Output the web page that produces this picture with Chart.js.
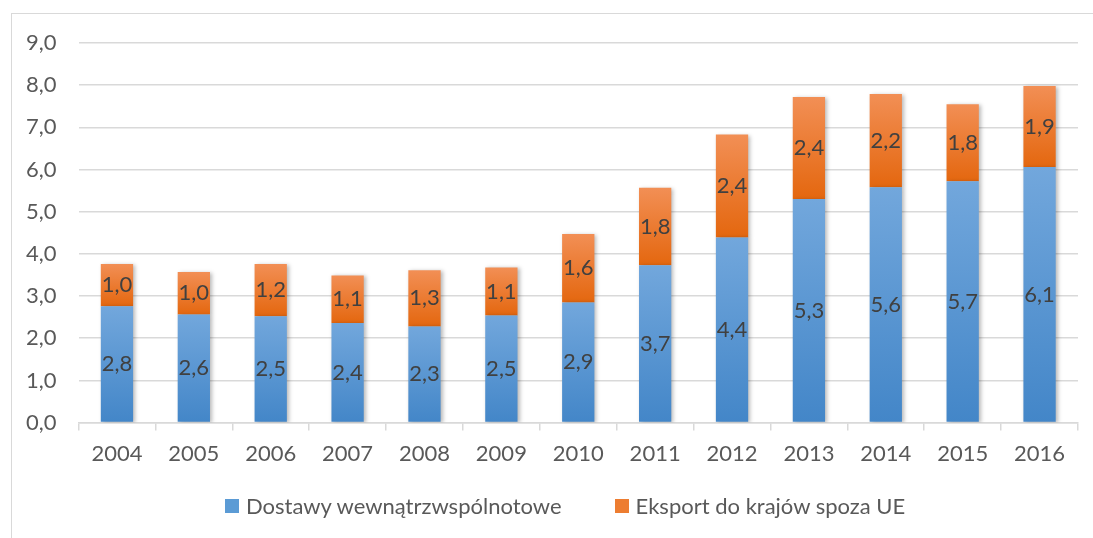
<!DOCTYPE html>
<html>
<head>
<meta charset="utf-8">
<script src="https://cdn.jsdelivr.net/npm/chart.js@4/dist/chart.umd.min.js"></script>
<style>
  html, body { margin: 0; padding: 0; background: #fff; overflow: hidden; }
  #wrap { position: absolute; left: 0; top: 0; width: 1093px; height: 538px; }
  #frame { position: absolute; left: 11px; top: 13px; width: 1200px; height: 600px;
           border: 1px solid #d9d9d9; pointer-events: none; }
  #legend { position: absolute; left: 225px; top: 493px; height: 26px; white-space: nowrap;
            font: 22px Lato; color: #595959; line-height: 26px; }
  #legend span.item { display: inline-block; margin-right: 53px; }
  #legend span.box { display: inline-block; width: 14px; height: 14px; margin-right: 7px;
                     vertical-align: 1px; }
</style>
</head>
<body>
<div id="frame"></div>
<div id="wrap"><canvas id="bar-chart" width="1093" height="538"></canvas></div>
<div id="legend"></div>
<script>
const years = ['2004', '2005', '2006', '2007', '2008', '2009', '2010', '2011', '2012', '2013', '2014', '2015', '2016'];
const dostawy = [2.76, 2.56, 2.52, 2.36, 2.28, 2.54, 2.85, 3.73, 4.39, 5.30, 5.58, 5.72, 6.06];
const eksport = [1.00, 1.01, 1.24, 1.13, 1.33, 1.14, 1.62, 1.84, 2.44, 2.42, 2.21, 1.83, 1.92];
const yTicks = [0, 1, 2, 3, 4, 5, 6, 7, 8, 9];
const seriesNames = ['Dostawy wewnątrzwspólnotowe', 'Eksport do krajów spoza UE'];
const legendColors = ['#5b9bd5', '#ed7d31'];

const fmt = v => v.toFixed(1).replace('.', ',');

// gradient for one bar segment, light on top, darker at the bottom
function segGradient(ctx, lo, hi, top, bottom) {
    const chart = ctx.chart;
    const y = chart.scales.y;
    if (!y || !chart.chartArea) return bottom;
    const i = ctx.dataIndex;
    const y0 = y.getPixelForValue(hi[i]);
    const y1 = y.getPixelForValue(lo[i]);
    if (!isFinite(y0) || !isFinite(y1) || y0 === y1) return bottom;
    const g = chart.ctx.createLinearGradient(0, y0, 0, y1);
    g.addColorStop(0, top);
    g.addColorStop(1, bottom);
    return g;
}
const zeros = years.map(() => 0);
const totals = dostawy.map((v, i) => v + eksport[i]);

const labelPlugin = {
    id: 'segLabels',
    afterDatasetsDraw(chart) {
        const c = chart.ctx;
        c.save();
        c.font = '22px Lato';
        c.fillStyle = '#404040';
        c.textAlign = 'center';
        c.textBaseline = 'middle';
        chart.data.datasets.forEach((ds, d) => {
            chart.getDatasetMeta(d).data.forEach((bar, i) => {
                const p = bar.getCenterPoint();
                c.fillText(fmt(ds.data[i]), p.x, p.y);
            });
        });
        c.restore();
    }
};

const shadowPlugin = {
    id: 'barShadow',
    beforeDatasetDraw(chart) {
        const c = chart.ctx;
        c.save();
        c.shadowColor = 'rgba(0,0,0,0.28)';
        c.shadowBlur = 4;
        c.shadowOffsetX = 2;
        c.shadowOffsetY = 1;
    },
    afterDatasetDraw(chart) {
        chart.ctx.restore();
    }
};

const Ctx = document.getElementById('bar-chart').getContext('2d');
const barchart = new Chart(Ctx, {
    type: 'bar',
    data: {
        labels: years,
        datasets: [{
            label: seriesNames[0],
            data: dostawy,
            backgroundColor: ctx => segGradient(ctx, zeros, dostawy, '#72a7dc', '#4386c8'),
            borderWidth: 0
        }, {
            label: seriesNames[1],
            data: eksport,
            backgroundColor: ctx => segGradient(ctx, dostawy, totals, '#f28f55', '#e4670f'),
            borderWidth: 0
        }]
    },
    options: {
        responsive: false,
        animation: false,
        devicePixelRatio: 1,
        layout: {
            padding: { left: 4, right: 15, top: 43, bottom: 61 }
        },
        datasets: {
            bar: { categoryPercentage: 1.0, barPercentage: 0.42 }
        },
        scales: {
            x: {
                stacked: true,
                grid: {
                    offset: true,
                    drawOnChartArea: false,
                    drawTicks: true,
                    tickLength: 8,
                    color: '#d9d9d9',
                    lineWidth: 1.5
                },
                border: { color: '#d9d9d9', width: 1.5 },
                ticks: {
                    color: '#595959',
                    font: { family: 'Lato', size: 22 },
                    padding: 10,
                    maxRotation: 0
                }
            },
            y: {
                stacked: true,
                min: 0,
                max: 9,
                afterBuildTicks: axis => { axis.ticks = yTicks.map(v => ({ value: v })); },
                grid: {
                    drawTicks: false,
                    color: '#d9d9d9',
                    lineWidth: 1.5
                },
                border: { display: false },
                ticks: {
                    color: '#595959',
                    font: { family: 'Lato', size: 22 },
                    padding: 22,
                    callback: v => fmt(v)
                }
            }
        },
        plugins: {
            legend: { display: false },
            tooltip: { enabled: false }
        }
    },
    plugins: [shadowPlugin, labelPlugin]
});

// legend below the chart, one entry per series
const legendEl = document.getElementById('legend');
seriesNames.forEach((name, i) => {
    const item = document.createElement('span');
    item.className = 'item';
    const box = document.createElement('span');
    box.className = 'box';
    box.style.background = legendColors[i];
    item.appendChild(box);
    item.appendChild(document.createTextNode(name));
    legendEl.appendChild(item);
});
</script>
</body>
</html>
